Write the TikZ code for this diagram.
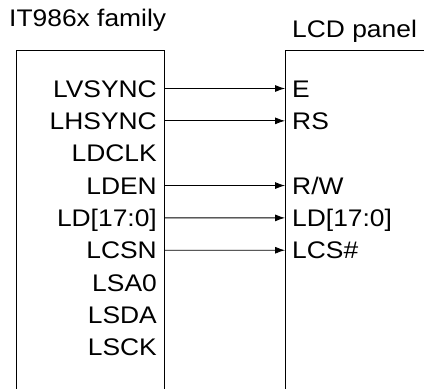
\documentclass[tikz,border=0pt]{standalone}
\usepackage{fontspec}
\setmainfont[FakeStretch=1.1]{Liberation Sans}
\usetikzlibrary{positioning,arrows.meta}

\begin{document}
\begin{tikzpicture}[x=1pt,y=1pt,
  chipbox/.style={draw=black, line width=0.8pt},
  sigpin/.style={font=\fontsize{24}{26}\selectfont, text height=17.2pt, text depth=0pt, inner ysep=0pt, inner xsep=7pt},
  title/.style={font=\fontsize{24}{26}\selectfont, inner sep=0pt},
  wire/.style={line width=0.8pt, -{Latex[length=10pt,width=7pt]}},
]
\useasboundingbox (0,0) rectangle (424,389);
\begin{scope}
\clip (0,0) rectangle (424,389);
% the two chips, running off the page at the bottom and right
\draw[chipbox] (16,-10) -- (16,339) -- (164,339) -- (164,-10);
\draw[chipbox] (285,-10) -- (285,339) -- (440,339) -- (440,-10);
\end{scope}
\node[title, anchor=base west] (famtitle) at (9,362) {IT986x family};
\node[title, anchor=base west] (lcdtitle) at (292,351) {LCD panel};

% IT986x side
\foreach \n/\t [count=\i from 0] in {lvsync/LVSYNC,lhsync/LHSYNC,ldclk/LDCLK,lden/LDEN,
    ld/LD[17:0],lcsn/LCSN,lsa/LSA0,lsda/LSDA,lsck/LSCK} {
  \pgfmathsetmacro{\yy}{389-88.5-32.35*\i}
  \node[sigpin, anchor=east] (\n) at (164,\yy) {\t};
}
% LCD side
\node[sigpin, anchor=west] (e) at (285,300.5) {E};
\node[sigpin, anchor=west] (rs) at (285,268.15) {RS};
\node[sigpin, anchor=west] (rw) at (285,203.45) {R/W};
\node[sigpin, anchor=west] (lcdd) at (285,171.1) {LD[17:0]};
\node[sigpin, anchor=west] (lcs) at (285,138.75) {LCS\#};

\draw[wire] (lvsync.east) -- (e.west);
\draw[wire] (lhsync.east) -- (rs.west);
\draw[wire] (lden.east) -- (rw.west);
\draw[wire] (ld.east) -- (lcdd.west);
\draw[wire] (lcsn.east) -- (lcs.west);
\end{tikzpicture}
\end{document}
